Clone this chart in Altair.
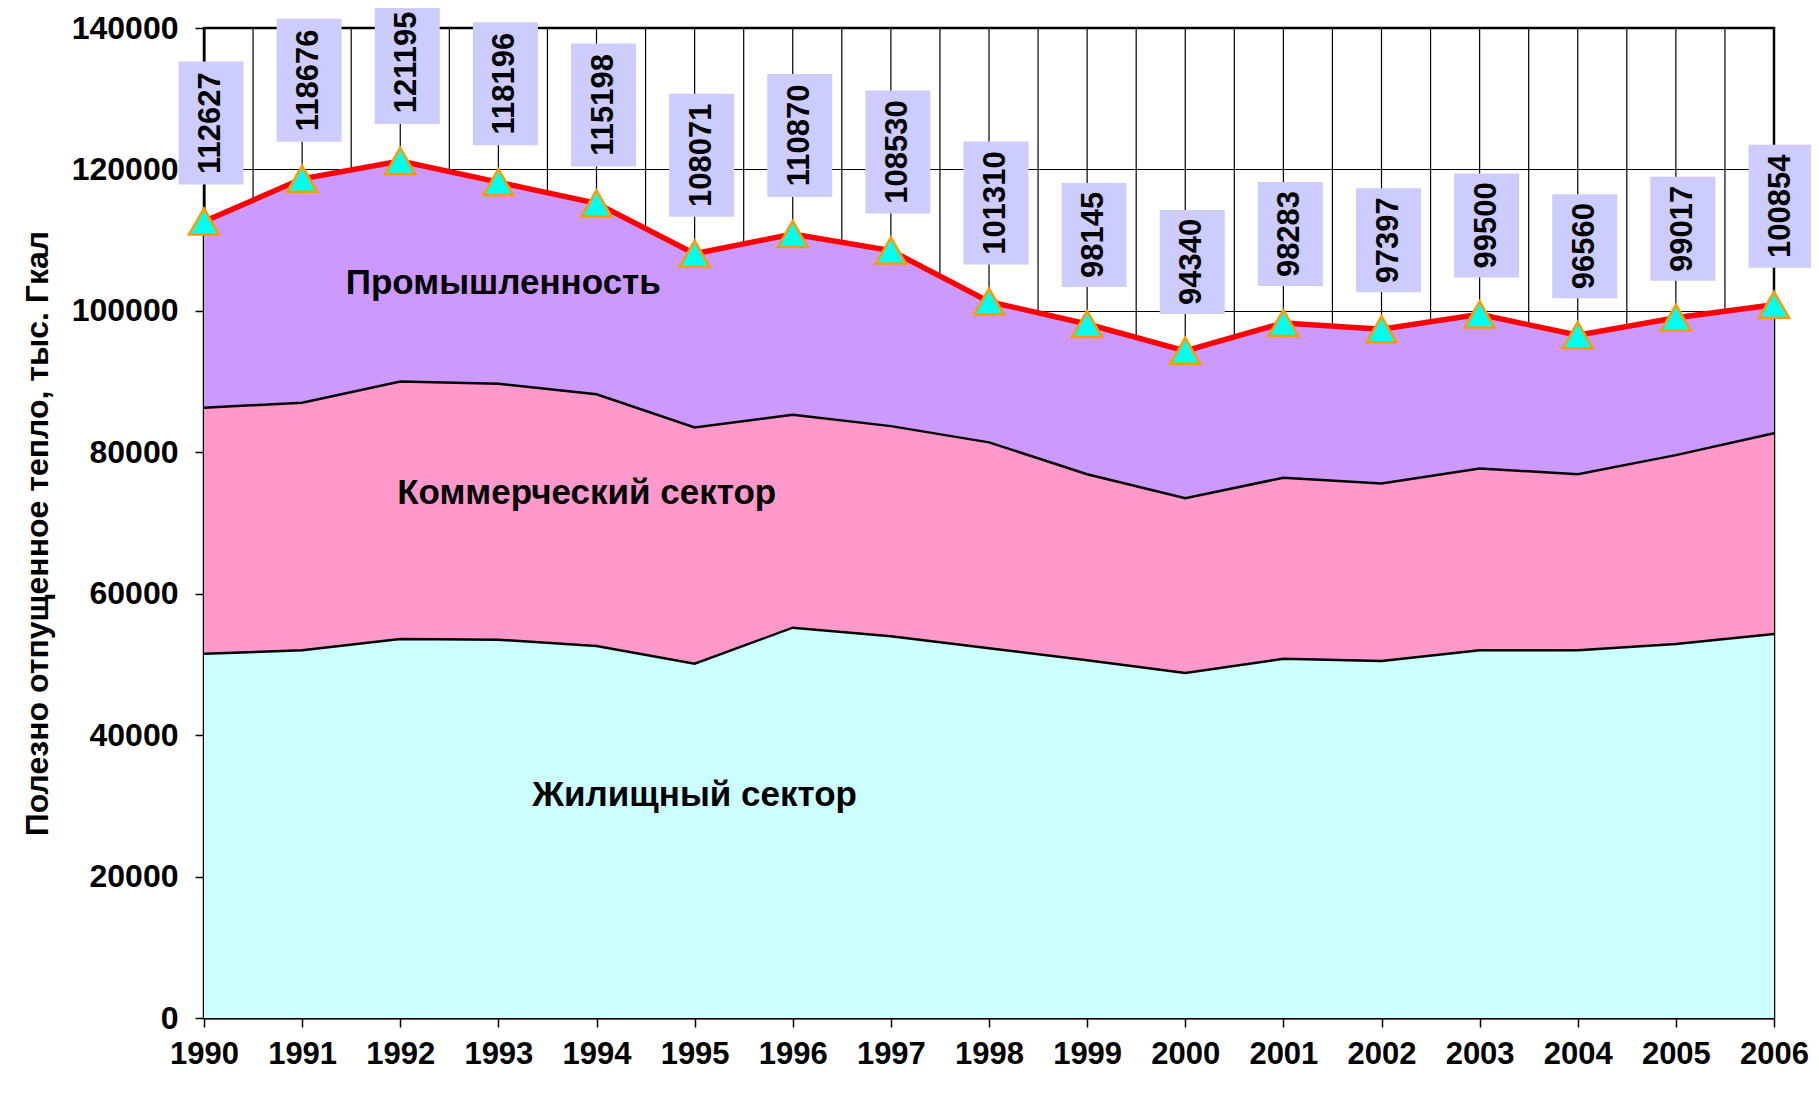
import altair as alt
import pandas as pd

# ---- data ----
years = list(range(1990, 2007))
total = [112627, 118676, 121195, 118196, 115198, 108071, 110870, 108530, 101310,
         98145, 94340, 98283, 97397, 99500, 96560, 99017, 100854]
residential = [51500, 52000, 53600, 53500, 52600, 50100, 55200, 54000, 52300,
               50600, 48800, 50800, 50500, 52000, 52000, 52900, 54300]
commercial = [34800, 35000, 36400, 36200, 35600, 33400, 30100, 29700, 29100,
              26300, 24700, 25600, 25100, 25700, 24900, 26700, 28400]

series_names = ["Жилищный сектор", "Коммерческий сектор", "Промышленность"]
series_colors = ["#CCFFFF", "#FF99CC", "#CC99FF"]
label_years = [1995.0, 1993.9, 1993.05]
label_values = [31600, 74200, 103900]

y_ticks = [0, 20000, 40000, 60000, 80000, 100000, 120000, 140000]
y_title = "Полезно отпущенное тепло, тыс. Гкал"

# ---- tables built from the lists ----
area_rows, bound_rows, tot_rows = [], [], []
for i, yr in enumerate(years):
    r = residential[i]
    c = r + commercial[i]
    t = total[i]
    area_rows += [
        {"year": yr, "series": series_names[0], "lower": 0, "upper": r},
        {"year": yr, "series": series_names[1], "lower": r, "upper": c},
        {"year": yr, "series": series_names[2], "lower": c, "upper": t},
    ]
    bound_rows += [
        {"year": yr, "key": "res", "v": r},
        {"year": yr, "key": "com", "v": c},
    ]
    tot_rows.append({"year": yr, "total": t})
area_df = pd.DataFrame(area_rows)
bound_df = pd.DataFrame(bound_rows)
tot_df = pd.DataFrame(tot_rows)
grid_df = pd.DataFrame({"g": [years[0] + k * 0.5 for k in range(2 * (years[-1] - years[0]) + 1)]})
lab_df = pd.DataFrame({"name": series_names, "lx": label_years, "ly": label_values})

FONT = "Liberation Sans"
H = 990

xs = alt.Scale(domain=[1990, 2006], nice=False, zero=False)
ys = alt.Scale(domain=[0, 140000], nice=False, zero=True)

xa = alt.Axis(values=years, format="d", title=None, grid=False,
              labelFont=FONT, labelFontSize=31, labelFontWeight="bold", labelColor="black",
              labelPadding=12, labelFlush=False, labelOverlap=False, labelBaseline="top",
              tickSize=9, tickColor="black", tickWidth=1.5,
              domainColor="black", domainWidth=2)
ya = alt.Axis(values=y_ticks, format="d", title=y_title,
              labelFont=FONT, labelFontSize=32, labelFontWeight="bold", labelColor="black",
              labelPadding=17, labelFlush=False, labelOverlap=False,
              tickSize=9, tickColor="black", tickWidth=1.5,
              domainColor="black", domainWidth=2,
              grid=True, gridColor="black", gridWidth=1.2,
              titleFont=FONT, titleFontSize=32, titleFontWeight="bold", titleColor="black",
              titleX=-167, titleY=H / 2 + 10, titleAlign="center", titleBaseline="middle", titleAngle=270)

grid = alt.Chart(grid_df).mark_rule(color="black", strokeWidth=1.2).encode(
    x=alt.X("g:Q", scale=xs, axis=xa)
)

areas = alt.Chart(area_df).mark_area(opacity=1).encode(
    x=alt.X("year:Q", scale=xs, axis=xa),
    y=alt.Y("lower:Q", scale=ys, axis=ya),
    y2="upper:Q",
    color=alt.Color("series:N", scale=alt.Scale(domain=series_names, range=series_colors), legend=None),
)

bounds = alt.Chart(bound_df).mark_line(color="black", strokeWidth=2.5).encode(
    x=alt.X("year:Q", scale=xs, axis=xa),
    y=alt.Y("v:Q", scale=ys, axis=ya),
    detail="key:N",
)

tline = alt.Chart(tot_df).mark_line(color="#FF0000", strokeWidth=5.5).encode(
    x=alt.X("year:Q", scale=xs, axis=xa),
    y=alt.Y("total:Q", scale=ys, axis=ya),
)

tri = alt.Chart(tot_df).mark_point(shape="triangle-up", filled=True, fill="#00FFEE",
                                   stroke="#FF9900", strokeWidth=2.5, size=900, opacity=1).encode(
    x=alt.X("year:Q", scale=xs, axis=xa),
    y=alt.Y("total:Q", scale=ys, axis=ya),
)

GAP = 37
XOFF = 7
boxes6 = alt.Chart(tot_df).transform_filter("datum.total >= 100000").mark_rect(
    width=65, height=123, fill="#CCCCFF", xOffset=XOFF, yOffset=-(GAP + 61.5)
).encode(x=alt.X("year:Q", scale=xs, axis=xa), y=alt.Y("total:Q", scale=ys, axis=ya))
boxes5 = alt.Chart(tot_df).transform_filter("datum.total < 100000").mark_rect(
    width=65, height=104, fill="#CCCCFF", xOffset=XOFF, yOffset=-(GAP + 52)
).encode(x=alt.X("year:Q", scale=xs, axis=xa), y=alt.Y("total:Q", scale=ys, axis=ya))

txt6 = alt.Chart(tot_df).transform_filter("datum.total >= 100000").mark_text(
    angle=270, font=FONT, fontSize=31, fontWeight="bold", color="black",
    align="center", baseline="middle", xOffset=XOFF, yOffset=-(GAP + 61.5)
).encode(x=alt.X("year:Q", scale=xs, axis=xa), y=alt.Y("total:Q", scale=ys, axis=ya),
         text=alt.Text("total:Q", format="d"))
txt5 = alt.Chart(tot_df).transform_filter("datum.total < 100000").mark_text(
    angle=270, font=FONT, fontSize=31, fontWeight="bold", color="black",
    align="center", baseline="middle", xOffset=XOFF, yOffset=-(GAP + 52)
).encode(x=alt.X("year:Q", scale=xs, axis=xa), y=alt.Y("total:Q", scale=ys, axis=ya),
         text=alt.Text("total:Q", format="d"))

slabels = alt.Chart(lab_df).mark_text(
    font=FONT, fontSize=35, fontWeight="bold", color="black", align="center", baseline="middle"
).encode(x=alt.X("lx:Q", scale=xs, axis=xa), y=alt.Y("ly:Q", scale=ys, axis=ya), text="name:N")

chart = alt.layer(grid, areas, bounds, tline, tri, boxes6, boxes5, txt6, txt5, slabels).properties(
    width=1570, height=H,
    autosize=alt.AutoSizeParams(type="none"),
    padding={"left": 196, "top": 20, "right": 37, "bottom": 62},
    background="white",
).configure_view(stroke="black", strokeWidth=2.5)

chart.save("out.html", embed_options={"renderer": "svg", "actions": False})
